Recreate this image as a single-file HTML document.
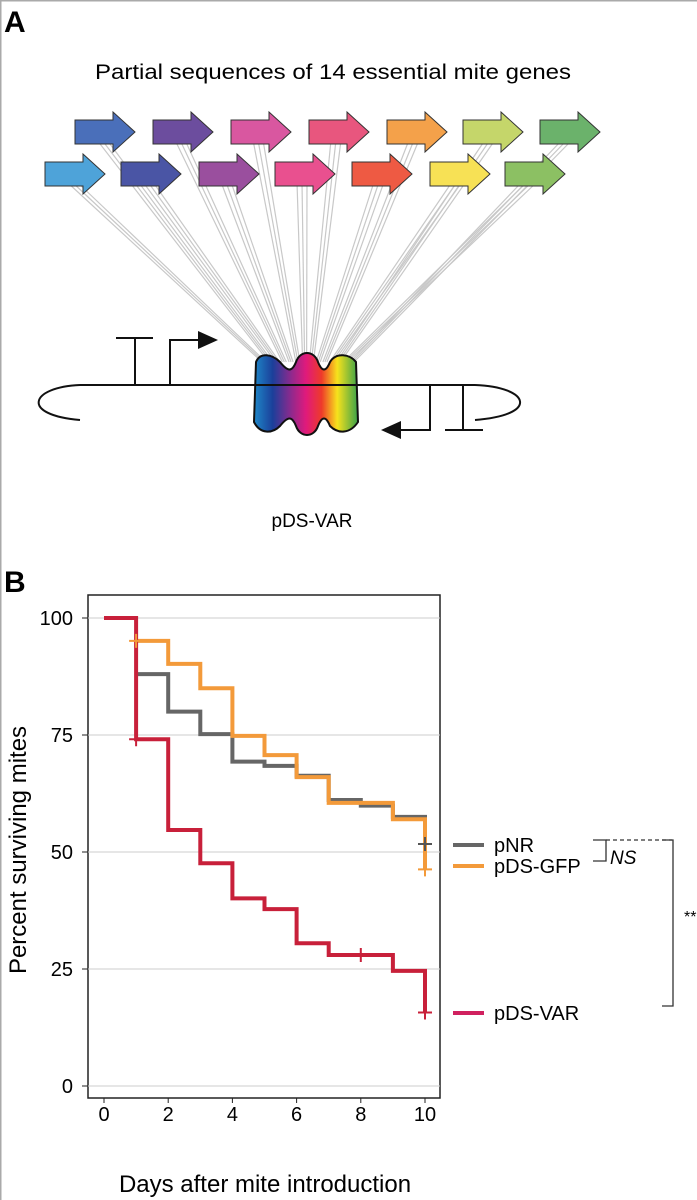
<!DOCTYPE html>
<html><head><meta charset="utf-8"><style>
html,body{margin:0;padding:0;background:#fff;}
svg{display:block;font-family:"Liberation Sans",sans-serif;}
</style></head><body>
<svg id="fig" width="697" height="1200" viewBox="0 0 697 1200">
<defs>
<linearGradient id="rainbow" x1="0" x2="1" y1="0" y2="0">
<stop offset="0" stop-color="#1e88c8"/><stop offset="0.18" stop-color="#1b3f9a"/><stop offset="0.35" stop-color="#8a2a8e"/><stop offset="0.5" stop-color="#e01a7c"/><stop offset="0.65" stop-color="#ee3a2a"/><stop offset="0.8" stop-color="#f7e21c"/><stop offset="1" stop-color="#3aa24a"/>
</linearGradient>
</defs>
<rect x="0.5" y="0.5" width="700" height="1205" fill="none" stroke="#aaa" stroke-width="2"/>
<text x="4" y="32" font-size="30" font-weight="bold">A</text>
<text x="333" y="79" font-size="21" text-anchor="middle" textLength="476" lengthAdjust="spacingAndGlyphs">Partial sequences of 14 essential mite genes</text>
<g id="connectors"></g>
<g id="arrows"></g>
<g fill="none" stroke="#111" stroke-width="2">
<line x1="80" y1="385" x2="475" y2="385"/>
<path d="M80 385 C30 387 20 415 80 420"/>
<path d="M475 385 C530 387 540 415 475 420"/>
<path d="M135 385 V338 M116 338 H153"/>
<path d="M170 385 V340 H200"/>
<path d="M430 385 V430 H400"/>
<path d="M463 385 V430 M445 430 H483"/>
</g>
<polygon points="198,331 218,340 198,349" fill="#111"/>
<polygon points="401,421 381,430 401,439" fill="#111"/>
<path d="M256 362 C260 352 272 354 280 362 C288 372 292 372 296 362 C300 350 314 350 318 362 C322 372 326 372 330 362 C336 352 350 354 356 362 L358 422 C350 434 338 434 330 426 C326 416 322 416 318 426 C314 438 300 438 296 426 C292 416 288 416 280 426 C272 434 260 434 254 422 Z" fill="url(#rainbow)" stroke="#111" stroke-width="2"/>
<line x1="252" y1="385" x2="360" y2="385" stroke="#111" stroke-width="2"/>
<text x="312" y="527" font-size="19" text-anchor="middle">pDS-VAR</text>

<text x="4" y="592" font-size="30" font-weight="bold">B</text>
<g id="chart"></g>
<text transform="translate(26,850) rotate(-90)" font-size="24" text-anchor="middle">Percent surviving mites</text>
<text x="265" y="1192" font-size="24" text-anchor="middle">Days after mite introduction</text>

<g>
<line x1="453" y1="845" x2="484" y2="845" stroke="#666" stroke-width="4"/>
<text x="494" y="852" font-size="20">pNR</text>
<line x1="453" y1="866" x2="484" y2="866" stroke="#f39a3a" stroke-width="4"/>
<text x="494" y="873" font-size="20">pDS-GFP</text>
<line x1="453" y1="1013" x2="484" y2="1013" stroke="#d0215f" stroke-width="4"/>
<text x="494" y="1020" font-size="20">pDS-VAR</text>
</g>
<g fill="none" stroke="#333" stroke-width="1.3">
<path d="M593 840 H606 V861 H593"/>
<path d="M606 840 H672" stroke-dasharray="4,3"/>
<path d="M662 840 H673 V1006 H662"/>
</g>
<text x="610" y="864" font-size="19" font-style="italic">NS</text>
<text x="684" y="922" font-size="16">**</text>
</svg>
<script>
const NS='http://www.w3.org/2000/svg';
function mk(tag,attrs,parent){const e=document.createElementNS(NS,tag);for(const k in attrs)e.setAttribute(k,attrs[k]);parent.appendChild(e);return e;}

// Panel A
const topColors=['#4a6fba','#6c4d9e','#d957a0','#e8567e','#f4a14a','#c5d66a','#6bb26b'];
const botColors=['#4ea3d9','#4a55a5','#9a4f9e','#e9508f','#ee5a43','#f7e155','#8cc063'];
const topX=[75,153,231,309,387,463,540];
const botX=[45,121,199,275,352,430,505];

// Panel B data
const days=[0,1,2,3,4,5,6,7,8,9,10];
const varVals=[100,74.1,54.7,47.6,40.1,37.8,30.5,28,28,24.6,15.7];
const gfpVals=[100,95.1,90.2,85,74.8,70.7,66,60.5,60.5,57,46.3];
const nrVals=[100,88,80,75.2,69.3,68.4,66.3,61.1,59.9,57.5,51.7];
const nrCensor=[[10,51.7]];
const gfpCensor=[[1,95.1],[10,46.3]];
const varCensor=[[1,74.1],[8,28],[10,15.7]];
const yTicks=[0,25,50,75,100];
const xTicks=[0,2,4,6,8,10];

const conn=document.getElementById('connectors');
const arr=document.getElementById('arrows');
function arrow(x,cy,c,name){
  const w=60,h=40,bh=24,hw=22;
  const p=[[x,cy-bh/2],[x+w-hw,cy-bh/2],[x+w-hw,cy-h/2],[x+w,cy],[x+w-hw,cy+h/2],[x+w-hw,cy+bh/2],[x,cy+bh/2]].map(a=>a.join(',')).join(' ');
  const e=mk('polygon',{points:p,fill:c,stroke:'#333','stroke-width':1},arr);
  
  
}
function lines(x,cy,i,n){
  for(let k=0;k<3;k++){
    const tx=262+(i/(n-1))*88+k*2;
    const l=mk('line',{x1:x+22+k*5,y1:cy+8,x2:tx,y2:362,stroke:'#c8c8c8','stroke-width':1.2},conn);
    
    
  }
}
const all=[];
topX.forEach((x,i)=>all.push([x,132,topColors[i],'gene-arrow-top-'+(i+1)]));
botX.forEach((x,i)=>all.push([x,174,botColors[i],'gene-arrow-bottom-'+(i+1)]));
const sorted=all.slice().sort((a,b)=>a[0]-b[0]);
sorted.forEach((a,i)=>lines(a[0],a[1],i,sorted.length));
all.forEach(a=>arrow(a[0],a[1],a[2],a[3]));

const X=d=>104+d*32.1;
const Y=v=>1086-v*4.68;
const g=document.getElementById('chart');
const frame=mk('rect',{x:88,y:595,width:352,height:503,fill:'none',stroke:'#222','stroke-width':1.5},g);


yTicks.forEach(v=>{
  const gl=mk('line',{x1:88,x2:440,y1:Y(v),y2:Y(v),stroke:'#ccc','stroke-width':1},g);
  
  
  mk('line',{x1:82,x2:88,y1:Y(v),y2:Y(v),stroke:'#222','stroke-width':1},g);
  const t=mk('text',{x:73,y:Y(v)+7,'font-size':20,'text-anchor':'end'},g);
  t.textContent=v;
  
  
});
xTicks.forEach(d=>{
  mk('line',{x1:X(d),x2:X(d),y1:1098,y2:1103,stroke:'#222','stroke-width':1},g);
  const t=mk('text',{x:X(d),y:1121,'font-size':20,'text-anchor':'middle'},g);
  t.textContent=d;
  
  
});
function step(vals,color,w,startDay,name){
  let d='M'+X(startDay)+' '+Y(vals[startDay]);
  for(let i=startDay+1;i<days.length;i++){d+=' H'+X(days[i])+' V'+Y(vals[i]);}
  const p=mk('path',{d:d,fill:'none',stroke:color,'stroke-width':w},g);
  
  
}
function censor(list,color,name){
  list.forEach(c=>{
    const p=mk('path',{d:'M'+(X(c[0])-7)+' '+Y(c[1])+' h14 M'+X(c[0])+' '+(Y(c[1])-7)+' v14',stroke:color,'stroke-width':2,fill:'none'},g);
    
    
  });
}
step(nrVals,'#666',4,1,'series-pnr');
step(gfpVals,'#f39a3a',4,1,'series-pds-gfp');
step(varVals,'#c8203a',4,0,'series-pds-var');
censor(nrCensor,'#555','censor-mark-pnr');
censor(gfpCensor,'#f39a3a','censor-mark-pds-gfp');
censor(varCensor,'#c8203a','censor-mark-pds-var');
</script>
</body></html>
